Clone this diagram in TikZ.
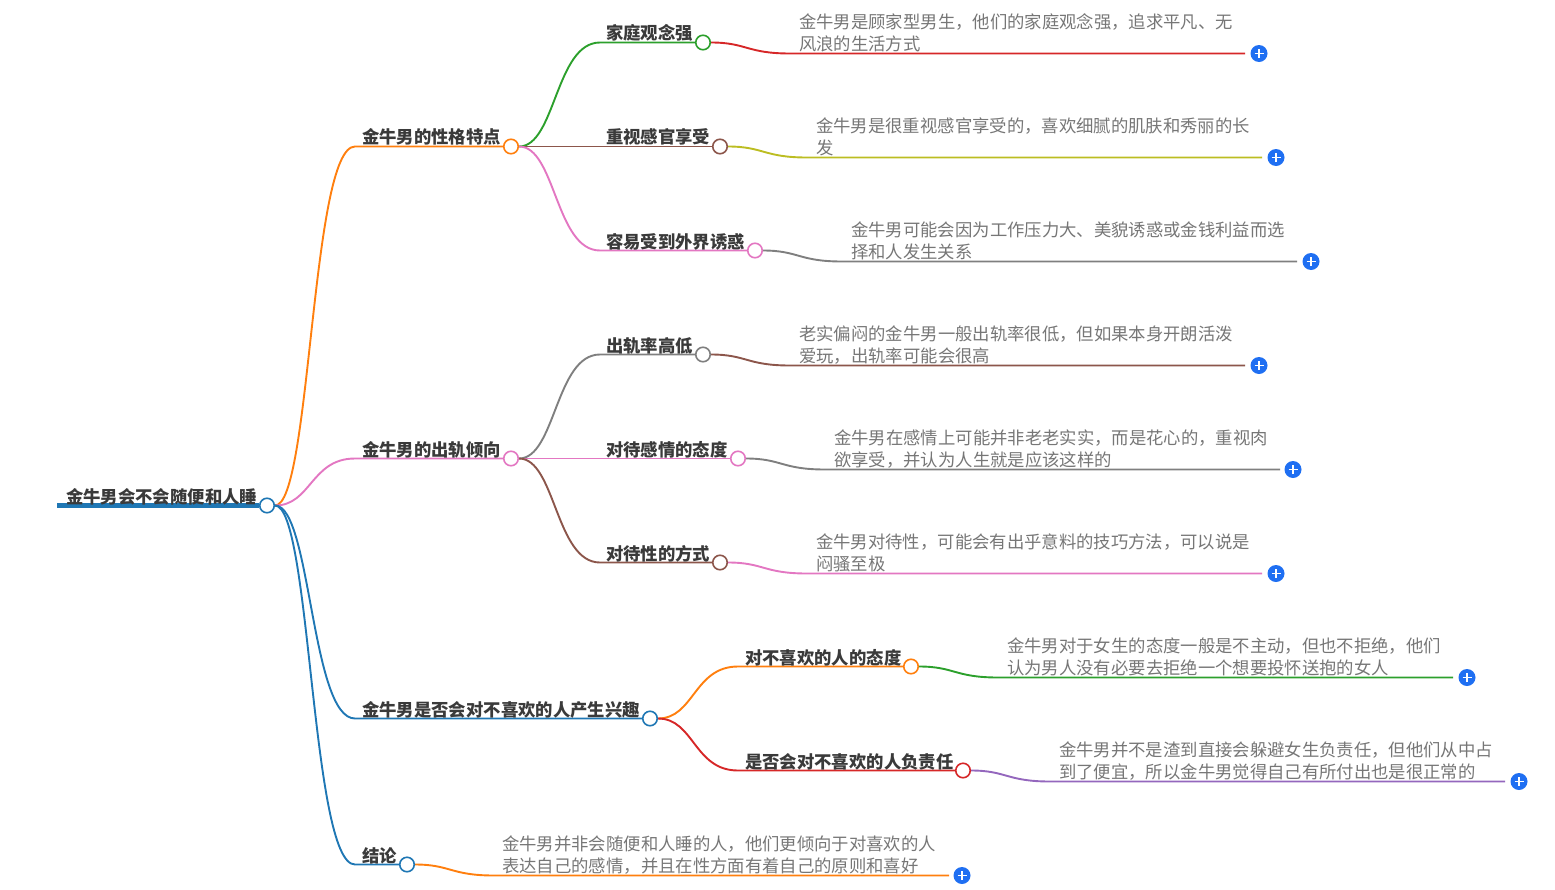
\documentclass[tikz,border=0pt]{standalone}
\usepackage{fontspec}
\setmainfont{Noto Sans CJK SC}
\usetikzlibrary{backgrounds,calc}
\definecolor{cblue}{HTML}{1F77B4}
\definecolor{corange}{HTML}{FF7F0E}
\definecolor{cgreen}{HTML}{2CA02C}
\definecolor{cred}{HTML}{D62728}
\definecolor{cpurple}{HTML}{9467BD}
\definecolor{cbrown}{HTML}{8C564B}
\definecolor{cpink}{HTML}{E377C2}
\definecolor{cgray}{HTML}{7F7F7F}
\definecolor{colive}{HTML}{BCBD22}
\definecolor{btn}{HTML}{1F6FF2}
\definecolor{ink}{HTML}{3A3A3A}
\definecolor{bodyink}{HTML}{767676}
\tikzset{
  x=1pt,y=-1pt,
  dot/.style={circle,draw=#1,fill=white,line width=1.6pt,minimum size=14.5pt,inner sep=0pt},
  lab/.style={anchor=west,inner sep=0pt,text=ink,font=\fontsize{17.35}{21.8}\selectfont\bfseries},
  txt/.style={anchor=west,inner sep=0pt,align=left,text=bodyink,font=\fontsize{17.35}{21.8}\selectfont},
  plusbtn/.style={circle,fill=btn,minimum size=17pt,inner sep=0pt,
    path picture={\draw[white,line width=1.5pt]
      ([xshift=-4.5pt]path picture bounding box.center) -- ([xshift=4.5pt]path picture bounding box.center)
      ([yshift=-4.5pt]path picture bounding box.center) -- ([yshift=4.5pt]path picture bounding box.center);}},
  wire/.style={draw=#1,line width=1.9pt},
}
\begin{document}
\begin{tikzpicture}
\useasboundingbox (0,0.5) rectangle (1555,889.5);
% dots
\node[dot=cblue] (root) at (267,506) {};
\coordinate (rootL) at (57,506);
\node[dot=corange] (a) at (511,147) {};
\node[dot=cpink]   (b) at (511,459) {};
\node[dot=cblue]   (c) at (650,719) {};
\node[dot=cblue]   (d) at (407,865) {};
\node[dot=cgreen] (a1) at (703,43) {};
\node[dot=cbrown] (a2) at (720,147) {};
\node[dot=cpink]  (a3) at (755,251) {};
\node[dot=cgray]  (b1) at (703,355) {};
\node[dot=cpink]  (b2) at (738,459) {};
\node[dot=cbrown] (b3) at (720,563) {};
\node[dot=corange] (c1) at (911,667) {};
\node[dot=cred]    (c2) at (963,771) {};
% plus buttons
\node[plusbtn] (pa1) at (1259,54) {};
\node[plusbtn] (pa2) at (1276,158) {};
\node[plusbtn] (pa3) at (1311,262) {};
\node[plusbtn] (pb1) at (1259,366) {};
\node[plusbtn] (pb2) at (1293,470) {};
\node[plusbtn] (pb3) at (1276,574) {};
\node[plusbtn] (pc1) at (1467,678) {};
\node[plusbtn] (pc2) at (1519,782) {};
\node[plusbtn] (pd)  at (962,876) {};
% labels
\node[lab] (troot) at (66,497) {金牛男会不会随便和人睡};
\node[lab] (ta) at (362,137) {金牛男的性格特点};
\node[lab] (tb) at (362,450) {金牛男的出轨倾向};
\node[lab] (tc) at (362,710) {金牛男是否会对不喜欢的人产生兴趣};
\node[lab] (td) at (362,856) {结论};
\node[lab] (ta1) at (606,33) {家庭观念强};
\node[lab] (ta2) at (606,137) {重视感官享受};
\node[lab] (ta3) at (606,242) {容易受到外界诱惑};
\node[lab] (tb1) at (606,346) {出轨率高低};
\node[lab] (tb2) at (606,450) {对待感情的态度};
\node[lab] (tb3) at (606,554) {对待性的方式};
\node[lab] (tc1) at (745,658) {对不喜欢的人的态度};
\node[lab] (tc2) at (745,762) {是否会对不喜欢的人负责任};
% body texts
\node[txt] (xa1) at (799,33) {金牛男是顾家型男生，他们的家庭观念强，追求平凡、无\\风浪的生活方式};
\node[txt] (xa2) at (816,137) {金牛男是很重视感官享受的，喜欢细腻的肌肤和秀丽的长\\发};
\node[txt] (xa3) at (851,241.5) {金牛男可能会因为工作压力大、美貌诱惑或金钱利益而选\\择和人发生关系};
\node[txt] (xb1) at (799,345.5) {老实偏闷的金牛男一般出轨率很低，但如果本身开朗活泼\\爱玩，出轨率可能会很高};
\node[txt] (xb2) at (834,449.5) {金牛男在感情上可能并非老老实实，而是花心的，重视肉\\欲享受，并认为人生就是应该这样的};
\node[txt] (xb3) at (816,553.5) {金牛男对待性，可能会有出乎意料的技巧方法，可以说是\\闷骚至极};
\node[txt] (xc1) at (1007,657.5) {金牛男对于女生的态度一般是不主动，但也不拒绝，他们\\认为男人没有必要去拒绝一个想要投怀送抱的女人};
\node[txt] (xc2) at (1059,761.5) {金牛男并不是渣到直接会躲避女生负责任，但他们从中占\\到了便宜，所以金牛男觉得自己有所付出也是很正常的};
\node[txt] (xd) at (502,855.5) {金牛男并非会随便和人睡的人，他们更倾向于对喜欢的人\\表达自己的感情，并且在性方面有着自己的原则和喜好};
% connector bend points
\foreach \n/\x/\y in {ja/355/147,jb/355/459,jc/355/719,jd/355/865,
  ja1/600/43,ja2/600/147,ja3/600/251,jb1/600/355,jb2/600/459,jb3/600/563,jc1/738/667,jc2/738/771,
  ka1/790/54,ka2/807/158,ka3/842/262,kb1/790/366,kb2/825/470,kb3/807/574,kc1/998/678,kc2/1050/782,kd/494/876,
  ea1/1245/54,ea2/1262/158,ea3/1297/262,eb1/1245/366,eb2/1280/470,eb3/1262/574,ec1/1453/678,ec2/1505/782,ed/949/876}
  {\coordinate (\n) at (\x,\y);}
\begin{scope}[on background layer]
\draw[wire=cblue,line width=4.4pt] (rootL) -- (root);
\newcommand{\link}[4]{\draw[wire=#1] (#2) .. controls ($(#2)!0.5!(#3|-#2)$) and ($(#3)!0.5!(#2|-#3)$) .. (#3) -- (#4);}
\link{corange}{root}{ja}{a}
\link{cpink}{root}{jb}{b}
\link{cblue}{root}{jc}{c}
\link{cblue}{root}{jd}{d}
\link{cgreen}{a}{ja1}{a1}
\link{cbrown}{a}{ja2}{a2}
\link{cpink}{a}{ja3}{a3}
\link{cgray}{b}{jb1}{b1}
\link{cpink}{b}{jb2}{b2}
\link{cbrown}{b}{jb3}{b3}
\link{corange}{c}{jc1}{c1}
\link{cred}{c}{jc2}{c2}
\link{cred}{a1}{ka1}{ea1}
\link{colive}{a2}{ka2}{ea2}
\link{cgray}{a3}{ka3}{ea3}
\link{cbrown}{b1}{kb1}{eb1}
\link{cgray}{b2}{kb2}{eb2}
\link{cpink}{b3}{kb3}{eb3}
\link{cgreen}{c1}{kc1}{ec1}
\link{cpurple}{c2}{kc2}{ec2}
\link{corange}{d}{kd}{ed}
\end{scope}
\end{tikzpicture}
\end{document}
